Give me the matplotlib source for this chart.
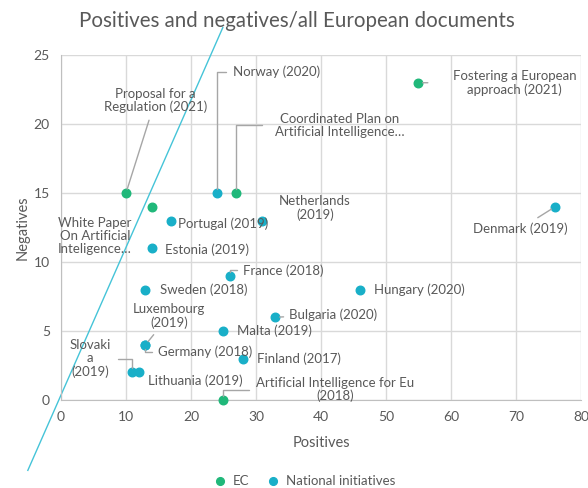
import matplotlib
matplotlib.use("Agg")
from matplotlib import pyplot as plt

plt.rcParams['font.family'] = ['Lato', 'DejaVu Sans']

# EC documents
ec_names = ["Proposal for a\nRegulation (2021)", "White Paper\nOn Artificial\nInteligence…",
            "Coordinated Plan on\nArtificial Intelligence…", "Fostering a European\napproach (2021)",
            "Artificial Intelligence for Eu\n(2018)"]
ec_pos = [10, 14, 27, 55, 25]
ec_neg = [15, 14, 15, 23, 0]

# national initiatives
nat_names = ["Norway (2020)", "Portugal (2019)", "Netherlands\n(2019)", "Estonia (2019)",
             "France (2018)", "Sweden (2018)", "Denmark (2019)", "Hungary (2020)",
             "Bulgaria (2020)", "Luxembourg\n(2019)", "Malta (2019)", "Germany (2018)",
             "Finland (2017)", "Slovaki\na\n(2019)", "Lithuania (2019)"]
nat_pos = [24, 17, 31, 14, 26, 13, 76, 46, 33, 13, 25, 13, 28, 11, 12]
nat_neg = [15, 13, 13, 11, 9, 8, 14, 8, 6, 4, 5, 4, 3, 2, 2]

# reference line (positives = negatives)
diag_x = [-5.1, 24.9]
diag_y = [-5.1, 27.0]

green = '#20b87a'
teal = '#19afc8'
txt = '#595959'
lead = '#a6a6a6'

fig = plt.figure(figsize=(5.88, 4.88), dpi=100)
ax = fig.add_axes([0.1037, 0.1803, 0.8843, 0.7067])

ax.plot(diag_x, diag_y, color='#45c4d8', lw=1, clip_on=False, zorder=1)
ax.scatter(ec_pos, ec_neg, s=38, color=green, zorder=3, label='EC', clip_on=False)
ax.scatter(nat_pos, nat_neg, s=38, color=teal, zorder=3, label='National initiatives', clip_on=False)

# label placement: (x, y, ha, leader style or None, gap at label end)
ec_lab = [(14.5, 21.7, 'center', 'straight', 3), (5.2, 11.9, 'center', None, 0),
          (42.9, 19.9, 'center', 'elbow', 7), (69.8, 23.0, 'center', 'straight', 16),
          (42.2, 0.75, 'center', 'elbow', 3)]
nat_lab = [(26.5, 23.8, 'left', 'elbow', 3), (18.0, 12.75, 'left', None, 0),
           (39.1, 13.9, 'center', None, 0), (16.0, 10.9, 'left', None, 0),
           (28.0, 9.4, 'left', 'elbow', 2), (15.2, 8.0, 'left', None, 0),
           (70.6, 12.4, 'center', 'straight', 3), (48.2, 8.0, 'left', None, 0),
           (35.1, 6.2, 'left', 'straight', 2), (16.6, 6.1, 'center', 'straight', 3),
           (27.1, 5.0, 'left', None, 0), (14.9, 3.5, 'left', 'elbow', 2),
           (30.2, 3.0, 'left', None, 0), (4.5, 3.0, 'center', 'elbow', 3),
           (13.4, 1.4, 'left', None, 0)]


def put_labels(names, xs, ys, places):
    for name, x, y, (lx, ly, ha, style, gap) in zip(names, xs, ys, places):
        kw = dict(fontsize=9.5, color=txt, ha=ha, va='center', linespacing=1.1,
                  annotation_clip=False, zorder=4)
        if style == 'straight':
            kw['arrowprops'] = dict(arrowstyle='-', color=lead, lw=1, shrinkA=gap, shrinkB=3)
        elif style == 'elbow':
            kw['arrowprops'] = dict(arrowstyle='-', color=lead, lw=1, shrinkA=gap, shrinkB=3,
                                    connectionstyle='angle,angleA=0,angleB=90,rad=0')
        ax.annotate(name, xy=(x, y), xytext=(lx, ly), **kw)


put_labels(ec_names, ec_pos, ec_neg, ec_lab)
put_labels(nat_names, nat_pos, nat_neg, nat_lab)

ax.set_xlim(0, 80)
ax.set_ylim(0, 25)
ax.set_xticks(range(0, 81, 10))
ax.set_yticks(range(0, 26, 5))
ax.grid(True, color='#d9d9d9', lw=1)
ax.set_axisbelow(True)
for side in ['top', 'right']:
    ax.spines[side].set_visible(False)
for side in ['left', 'bottom']:
    ax.spines[side].set_color('#bfbfbf')
ax.tick_params(length=0, labelsize=10, labelcolor=txt, pad=8)

ax.set_xlabel('Positives', fontsize=10.5, color=txt, labelpad=9)
ax.set_ylabel('Negatives', fontsize=10.5, color=txt, labelpad=3)
fig.suptitle('Positives and negatives/all European documents', fontsize=14.8,
             color=txt, x=0.505, y=0.978)

fig.legend(loc='center', bbox_to_anchor=(0.512, 0.015), ncol=2, frameon=False,
           fontsize=9.5, labelcolor=txt, handletextpad=0.0, columnspacing=0.8,
           markerscale=0.9)

fig.savefig('out.png', dpi=100)
